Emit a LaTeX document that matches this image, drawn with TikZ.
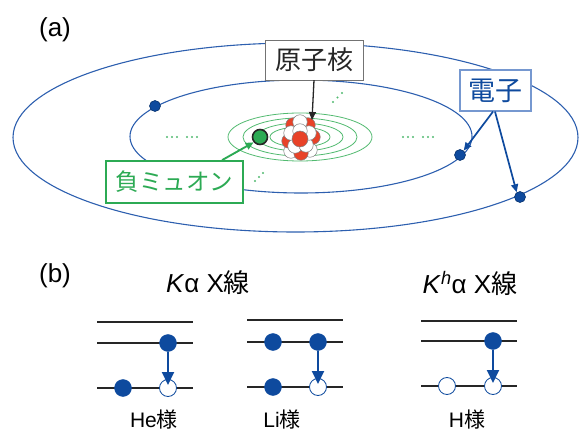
\documentclass[tikz,border=0pt]{standalone}
\usepackage{fontspec}
\setmainfont{Liberation Sans}
\newfontfamily\jp{Noto Sans CJK JP}
\usetikzlibrary{arrows,arrows.meta,positioning,calc}
\definecolor{eblue}{RGB}{14,74,158}
\definecolor{orbitblue}{RGB}{45,95,175}
\definecolor{mugreen}{RGB}{44,170,84}
\definecolor{ringgreen}{RGB}{82,186,112}
\definecolor{nred}{RGB}{232,66,40}
\definecolor{tagblue}{RGB}{118,152,208}
\tikzstyle{line} = [draw, -{Triangle[length=8pt,width=7pt]},line width=1.3pt,fill=none]

\begin{document}
\begin{tikzpicture}[
    x=1pt,y=-1pt,
    orbit/.style={
      draw=orbitblue,
      line width=1.1pt
    },
    ring/.style={
      draw=ringgreen,
      line width=0.8pt
    },
    electron/.style={
      circle,
      inner sep=0pt,
      minimum size=11pt,
      fill=eblue,
      draw=eblue!70!black,
      line width=0.6pt
    },
    muon/.style={
      circle,
      inner sep=0pt,
      minimum size=15pt,
      fill=mugreen,
      draw=black!85,
      line width=1.6pt
    },
    proton/.style={
      circle,
      inner sep=0pt,
      minimum size=14.5pt,
      fill=nred,
      draw=gray,
      line width=0.5pt
    },
    neutron/.style={
      proton,
      fill=white
    },
    tag/.style={
      draw,
      fill=white,
      inner sep=0pt,
      align=center
    },
    level/.style={
      draw=black!85,
      line width=2.3pt
    },
    full/.style={
      circle,
      inner sep=0pt,
      minimum size=17pt,
      fill=eblue,
      draw=eblue
    },
    hole/.style={
      full,
      fill=white,
      line width=0.8pt
    },
    jump/.style={
      draw=eblue,
      line width=2pt,
      shorten >=3pt,
      -{Triangle[length=13pt,width=12pt]}
    },
    mudots/.style={
      fill=ringgreen
    }
  ]
  \useasboundingbox (0,0) rectangle (579,433);

  \node[font=\fontsize{26}{30}\selectfont] (pa) at (55,30) {(a)};
  \node[font=\fontsize{26}{30}\selectfont] (pb) at (55,276) {(b)};

  % electron orbits
  \draw[orbit] (295.5,137.5) ellipse [x radius=282.5, y radius=94.5];
  \draw[orbit] (301,136.5) ellipse [x radius=171, y radius=56.5];

  % muon orbits
  \foreach \rx/\ry in {72/24,57/19,43/14,30/10}
    \draw[ring] (300,137) ellipse [x radius=\rx, y radius=\ry];

  \foreach \x in {167,172,177,187,192,197,403,408,413,423,428,433}
    \fill[mudots] (\x,137) circle (1.1);
  \foreach \i in {0,1,2} {
    \fill[mudots] (333+4.5*\i,102-4.5*\i) circle (1.1);
    \fill[mudots] (255+4*\i,181-4*\i) circle (1.1);
  }

  \node[electron] (e1) at (155,106) {};
  \node[electron] (e2) at (460,155) {};
  \node[electron] (e3) at (520,197) {};
  \node[muon] (muon) at (260,137) {};

  % nucleus
  \foreach \x/\y/\s in {310/150/neutron,291/151/neutron,301/153/proton,
      313/137/proton,289/141/proton,308/125/proton,293/125/proton,
      300/122/neutron,295/146/neutron,306/145/neutron,291/133/neutron,
      309/133/neutron,300/131/neutron}
    \node[\s] at (\x,\y) {};
  \node[proton,minimum size=16pt] (nucleus) at (300,139) {};
  \coordinate (nuctop) at (312,120);

  \node[tag,draw=black!55,minimum width=98pt,minimum height=40pt,
    font=\jp\fontsize{26}{30}\selectfont,text=black!85] (atom) at (314,60) {原子核};
  \node[tag,draw=mugreen,line width=1.8pt,minimum width=137pt,minimum height=42pt,
    font=\jp\fontsize{23.5}{28}\selectfont,text=mugreen] (mubox) at (174.5,182) {負ミュオン};
  \node[tag,draw=tagblue,line width=1.2pt,minimum width=71pt,minimum height=41pt,
    font=\jp\fontsize{27}{30}\selectfont,text=eblue] (etag) at (495.5,90.5) {電子};

  \draw[line,draw=black!85] (atom.south) -- (nuctop);
  \draw[line,draw=mugreen,line width=1.9pt] ($(mubox.north west)+(117,0)$) -- (muon.220);
  \draw[line,draw=eblue,line width=1.7pt] ($(etag.south)+(-2.5,0)$) -- (e2.50);
  \draw[line,draw=eblue,line width=1.7pt] ($(etag.south)+(-0.5,0)$) -- (e3.125);

  % K alpha transitions
  \node[font=\fontsize{26}{30}\selectfont] (kalpha) at (208,283) {\textit{K}α X{\jp 線}};
  \node[font=\fontsize{26}{30}\selectfont] (khalpha) at (470,283) {\textit{K}\textsuperscript{\textit{h}}α X{\jp 線}};

  \foreach \y in {322,343,388} \draw[level] (97,\y) -- (193,\y);
  \foreach \y in {320,342,387} \draw[level] (247,\y) -- (343,\y);
  \foreach \y in {321,341,386} \draw[level] (421,\y) -- (517,\y);

  \node[full] (he2) at (168,343) {};
  \node[full] (he1) at (123,388) {};
  \node[hole] (he0) at (168,388) {};
  \draw[jump] (he2) -- (he0.center);

  \node[full] (li3) at (273,342) {};
  \node[full] (li2) at (318,342) {};
  \node[full] (li1) at (273,387) {};
  \node[hole] (li0) at (318,387) {};
  \draw[jump] (li2) -- (li0.center);

  \node[full] (h2) at (493,341) {};
  \node[hole] (h1) at (447,386) {};
  \node[hole] (h0) at (493,386) {};
  \draw[jump] (h2) -- (h0.center);

  \node[font=\fontsize{21}{24}\selectfont,anchor=base] (helike) at (154,427) {He{\jp 様}};
  \node[font=\fontsize{21}{24}\selectfont,anchor=base] (lilike) at (282,427) {Li{\jp 様}};
  \node[font=\fontsize{21}{24}\selectfont,anchor=base] (hlike) at (467,427) {H{\jp 様}};
\end{tikzpicture}
\end{document}
